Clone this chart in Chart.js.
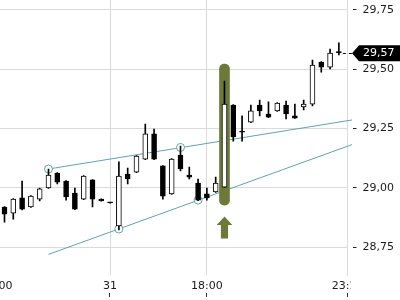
<!DOCTYPE html>
<html>
<head>
<meta charset="utf-8">
<script src="https://cdn.jsdelivr.net/npm/chart.js@4.4.0/dist/chart.umd.min.js"></script>
<style>
    html, body { margin: 0; padding: 0; background: #fff; }
    #wrap { width: 400px; height: 300px; position: relative; }
</style>
</head>
<body>
<div id="wrap"><canvas id="chart"></canvas></div>
<script>
    // Candles, one entry per bar (bar index 0..38)
    const opens  = [28.919, 28.893, 28.957, 28.919, 28.952, 28.999, 29.062, 29.028, 28.978, 28.952,
                    29.033, 28.952, 28.936, 28.839, 29.058, 29.066, 29.121, 29.227, 29.092, 28.974,
                    29.138, 29.054, 29.020, 28.974, 28.982, 29.003, 29.349, 29.239, 29.277, 29.349,
                    29.311, 29.324, 29.349, 29.303, 29.341, 29.353, 29.530, 29.509, 29.570];
    const highs  = [28.921, 28.954, 29.028, 28.967, 28.999, 29.079, 29.064, 29.030, 28.999, 29.051,
                    29.035, 28.953, 28.937, 29.109, 29.083, 29.136, 29.269, 29.248, 29.094, 29.123,
                    29.176, 29.087, 29.037, 28.999, 29.045, 29.450, 29.351, 29.303, 29.349, 29.370,
                    29.362, 29.359, 29.366, 29.353, 29.370, 29.539, 29.532, 29.585, 29.611];
    const lows   = [28.855, 28.868, 28.906, 28.917, 28.944, 28.997, 29.016, 28.948, 28.908, 28.950,
                    28.919, 28.943, 28.935, 28.822, 29.016, 29.064, 29.119, 29.119, 28.952, 28.972,
                    29.071, 29.037, 28.946, 28.948, 28.980, 29.001, 29.197, 29.197, 29.275, 29.303,
                    29.296, 29.322, 29.290, 29.292, 29.328, 29.345, 29.488, 29.501, 29.560];
    const closes = [28.889, 28.952, 28.910, 28.965, 28.995, 29.054, 29.024, 28.961, 28.910, 29.049,
                    28.952, 28.944, 28.936, 29.049, 29.037, 29.134, 29.227, 29.121, 28.965, 29.121,
                    29.079, 29.045, 28.948, 28.957, 29.020, 29.353, 29.214, 29.235, 29.324, 29.324,
                    29.298, 29.357, 29.311, 29.294, 29.353, 29.518, 29.509, 29.568, 29.570];

    // Axis ticks
    const xTickIndex  = [-0.9, 12, 23, 38.98];
    const xTickLabels = ['12:00', '31', '18:00', '23:15'];
    const yTicks = [28.75, 29.00, 29.25, 29.50, 29.75];

    // Trend lines and the touch points marked with circles
    const upperLineX = [5, 39.49];
    const upperLineY = [29.079, 29.286];
    const lowerLineX = [5, 39.49];
    const lowerLineY = [28.719, 29.182];
    const touchX = [5, 20, 13, 22];
    const touchY = [29.079, 29.17, 28.826, 28.948];

    // Highlighted candle and last price
    const markIndex = 25;
    const markLow = 28.927;
    const markHigh = 29.522;
    const lastPrice = 29.57;

    const gridColor = '#dadada';
    const textColor = '#1a1a1a';
    const teal = '#62a3a9';
    const olive = '#6b7a38';
    const font = { family: 'DejaVu Sans', size: 11 };

    const idx = opens.map((_, i) => i);
    const fmt = v => v.toFixed(2).replace('.', ',');

    // Price tag, arrow and the little extras around the axes
    const overlay = {
        id: 'overlay',
        afterDraw(chart) {
            const ctx = chart.ctx;
            const xs = chart.scales.x;
            const ys = chart.scales.y;
            ctx.save();

            // arrow under the highlighted candle
            const cx = xs.getPixelForValue(markIndex);
            ctx.fillStyle = olive;
            ctx.beginPath();
            ctx.moveTo(cx, 216.5);
            ctx.lineTo(cx + 7.8, 225);
            ctx.lineTo(cx + 3.6, 225);
            ctx.lineTo(cx + 3.6, 238.5);
            ctx.lineTo(cx - 3.6, 238.5);
            ctx.lineTo(cx - 3.6, 225);
            ctx.lineTo(cx - 7.8, 225);
            ctx.closePath();
            ctx.fill();

            // cut the last time label at the plot edge
            ctx.fillStyle = '#fff';
            ctx.fillRect(351, 277, 49, 23);

            // small marks under the time labels
            ctx.strokeStyle = '#333';
            ctx.lineWidth = 1;
            xTickIndex.forEach(v => {
                const px = Math.round(xs.getPixelForValue(v)) - 0.5;
                if (px < 0) return;
                ctx.beginPath();
                ctx.moveTo(px, 293);
                ctx.lineTo(px, 297);
                ctx.stroke();
            });

            // dashed lead from last candle to the price tag
            const py = ys.getPixelForValue(lastPrice) + 0.5;
            const lx = xs.getPixelForValue(opens.length - 1);
            ctx.strokeStyle = '#000';
            ctx.setLineDash([3, 3]);
            ctx.beginPath();
            ctx.moveTo(lx + 4, Math.round(py) + 0.5);
            ctx.lineTo(352, Math.round(py) + 0.5);
            ctx.stroke();
            ctx.setLineDash([]);

            // price tag
            ctx.fillStyle = '#000';
            ctx.beginPath();
            ctx.moveTo(352, py);
            ctx.lineTo(359, py - 8);
            ctx.lineTo(400, py - 8);
            ctx.lineTo(400, py + 8);
            ctx.lineTo(359, py + 8);
            ctx.closePath();
            ctx.fill();
            ctx.fillStyle = '#fff';
            ctx.font = '11px "DejaVu Sans"';
            ctx.textBaseline = 'middle';
            ctx.textAlign = 'left';
            ctx.fillText(fmt(lastPrice), 363, py + 0.5);

            ctx.restore();
        }
    };

    new Chart(document.getElementById('chart').getContext('2d'), {
        type: 'bar',
        data: {
            datasets: [
                {
                    // candle bodies
                    data: idx.map(i => ({ x: i, y: [opens[i], closes[i]] })),
                    backgroundColor: idx.map(i => closes[i] > opens[i] ? '#ffffff' : '#000000'),
                    borderColor: '#000',
                    borderWidth: 1,
                    borderSkipped: false,
                    barThickness: 5,
                    minBarLength: 1,
                    grouped: false,
                    order: 0
                },
                {
                    // wicks
                    data: idx.map(i => ({ x: i, y: [lows[i], highs[i]] })),
                    backgroundColor: '#000',
                    borderWidth: 0,
                    barThickness: 1,
                    grouped: false,
                    order: 1
                },
                {
                    // highlight band
                    data: [{ x: markIndex, y: [markLow, markHigh] }],
                    backgroundColor: olive,
                    borderWidth: 0,
                    borderSkipped: false,
                    borderRadius: 5,
                    barThickness: 10,
                    grouped: false,
                    order: 2
                },
                {
                    type: 'line',
                    data: touchX.map((x, i) => ({ x: x, y: touchY[i] })),
                    showLine: false,
                    pointRadius: 4,
                    pointBorderWidth: 1,
                    pointBorderColor: teal,
                    pointBackgroundColor: '#fff',
                    order: 3
                },
                {
                    type: 'line',
                    data: upperLineX.map((x, i) => ({ x: x, y: upperLineY[i] })),
                    borderColor: teal,
                    borderWidth: 1,
                    pointRadius: 0,
                    clip: false,
                    order: 4
                },
                {
                    type: 'line',
                    data: lowerLineX.map((x, i) => ({ x: x, y: lowerLineY[i] })),
                    borderColor: teal,
                    borderWidth: 1,
                    pointRadius: 0,
                    clip: false,
                    order: 4
                }
            ]
        },
        options: {
            animation: false,
            responsive: true,
            maintainAspectRatio: false,
            layout: { autoPadding: false, padding: 0 },
            plugins: {
                legend: { display: false },
                tooltip: { enabled: false }
            },
            scales: {
                x: {
                    type: 'linear',
                    min: -0.511,
                    max: 38.98,
                    offset: false,
                    grid: { color: gridColor, drawTicks: false, offset: false },
                    border: { display: false },
                    ticks: {
                        autoSkip: false,
                        maxRotation: 0,
                        padding: 5,
                        color: textColor,
                        font: font,
                        callback: (v, i) => xTickLabels[i]
                    },
                    afterBuildTicks: s => { s.ticks = xTickIndex.map(v => ({ value: v })); },
                    afterFit: s => { s.height = 25; s.paddingLeft = 0; s.paddingRight = 0; }
                },
                y: {
                    type: 'linear',
                    position: 'right',
                    min: 28.632,
                    max: 29.792,
                    beginAtZero: false,
                    grid: {
                        color: gridColor,
                        tickLength: 9,
                        tickColor: '#222',
                        tickBorderDash: [4, 5],
                        tickBorderDashOffset: 4
                    },
                    border: { display: true, color: gridColor },
                    ticks: {
                        padding: 6,
                        color: textColor,
                        font: font,
                        callback: v => fmt(v)
                    },
                    afterBuildTicks: s => { s.ticks = yTicks.map(v => ({ value: v })); },
                    afterFit: s => { s.width = 52.5; s.paddingTop = 0; s.paddingBottom = 0; }
                }
            }
        },
        plugins: [overlay]
    });
</script>
</body>
</html>
